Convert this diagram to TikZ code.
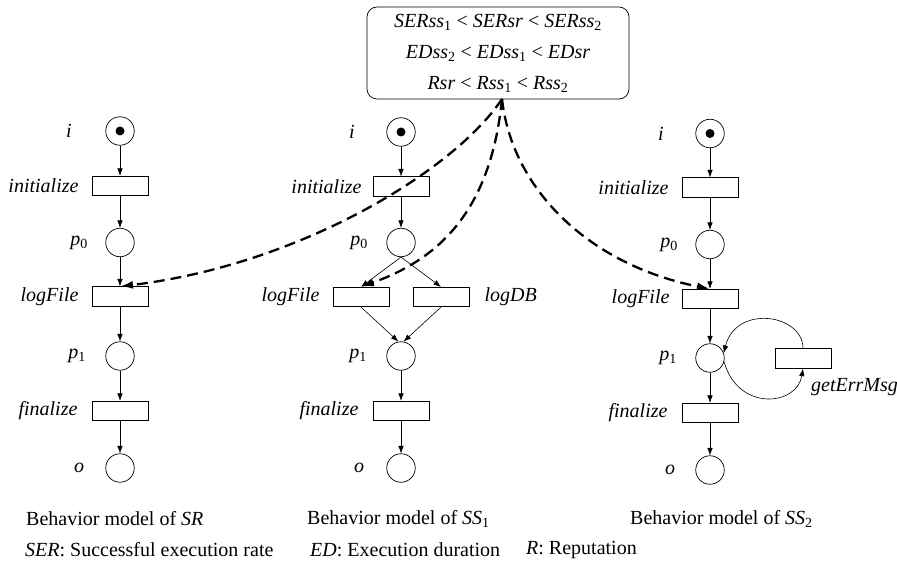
\documentclass[tikz,border=0pt]{standalone}
\usepackage{fontspec}
\setmainfont{Liberation Serif}
\usetikzlibrary{arrows.meta}
\begin{document}
\begin{tikzpicture}[x=1pt,y=-1pt,
  every node/.style={font=\fontsize{20}{23}\selectfont},
  place/.style={circle,draw,line width=0.7pt,minimum size=28.5pt,inner sep=0pt},
  trans/.style={rectangle,draw,line width=0.7pt,minimum width=56pt,minimum height=19.5pt,inner sep=0pt},
  lbl/.style={inner sep=0pt},
  token/.style={circle,fill,minimum size=9pt,inner sep=0pt},
  flow/.style={line width=0.6pt,-{Latex[length=7.5pt,width=5.5pt]}},
  dep/.style={line width=2.3pt,dash pattern=on 11pt off 6pt,-{Latex[length=13pt,width=8pt]}},
  cond/.style={draw,line width=0.7pt,rounded corners=10pt,minimum width=262pt,minimum height=92pt,align=center,font=\fontsize{20}{31}\selectfont}]
\useasboundingbox (0,0) rectangle (897,572);

% condition box
\node[cond] (cnd) at (498,53) {\textit{SERss}\textsubscript{1} < \textit{SERsr} < \textit{SERss}\textsubscript{2}\\
\textit{EDss}\textsubscript{2} < \textit{EDss}\textsubscript{1} < \textit{EDsr}\\
\textit{Rsr} < \textit{Rss}\textsubscript{1} < \textit{Rss}\textsubscript{2}};
\coordinate (src) at (502,99);

% ---------- column 1 : SR ----------
\node[place] (i1) at (120,131) {};
\node[token] (tk1) at (i1) {};
\node[trans] (init1) at (120,186) {};
\node[place] (pa1) at (120,242.5) {};
\node[trans] (lf1) at (120,296.5) {};
\node[place] (pb1) at (120,356) {};
\node[trans] (fin1) at (120,411) {};
\node[place] (o1) at (120,468) {};
\node[lbl] (li1) at (69,131) {\textit{i}};
\node[lbl,anchor=east] (linit1) at ([xshift=-13pt]init1.west) {\textit{initialize}};
\node[lbl] (lpa1) at (79,242.5) {\textit{p}\textsubscript{0}};
\node[lbl,anchor=east] (llf1) at ([xshift=-13pt]lf1.west) {\textit{logFile}};
\node[lbl] (lpb1) at (77,356) {\textit{p}\textsubscript{1}};
\node[lbl,anchor=east] (lfin1) at ([xshift=-14pt]fin1.west) {\textit{finalize}};
\node[lbl] (lo1) at (79,468) {\textit{o}};
\draw[flow] (i1) -- (init1);
\draw[flow] (init1) -- (pa1);
\draw[flow] (pa1) -- (lf1);
\draw[flow] (lf1) -- (pb1);
\draw[flow] (pb1) -- (fin1);
\draw[flow] (fin1) -- (o1);

% ---------- column 2 : SS1 ----------
\node[place] (i2) at (401,132) {};
\node[token] (tk2) at (i2) {};
\node[trans] (init2) at (401,186.5) {};
\node[place] (pa2) at (401,242.5) {};
\node[trans] (lf2) at (361,297) {};
\node[trans] (db2) at (441,297) {};
\node[place] (pb2) at (401,356) {};
\node[trans] (fin2) at (401,411) {};
\node[place] (o2) at (401,468) {};
\node[lbl] (li2) at (352,132) {\textit{i}};
\node[lbl,anchor=east] (linit2) at ([xshift=-11pt]init2.west) {\textit{initialize}};
\node[lbl] (lpa2) at (359,242.5) {\textit{p}\textsubscript{0}};
\node[lbl,anchor=east] (llf2) at ([xshift=-13pt]lf2.west) {\textit{logFile}};
\node[lbl,anchor=west] (ldb2) at ([xshift=15pt]db2.east) {\textit{logDB}};
\node[lbl] (lpb2) at (358,356) {\textit{p}\textsubscript{1}};
\node[lbl,anchor=east] (lfin2) at ([xshift=-14pt]fin2.west) {\textit{finalize}};
\node[lbl] (lo2) at (359,468) {\textit{o}};
\draw[flow] (i2) -- (init2);
\draw[flow] (init2) -- (pa2);
\draw[flow] (pa2.south) -- (lf2.north);
\draw[flow] (pa2.south) -- (db2.north);
\draw[flow] (lf2.south) -- (pb2.100);
\draw[flow] (db2.south) -- (pb2.80);
\draw[flow] (pb2) -- (fin2);
\draw[flow] (fin2) -- (o2);

% ---------- column 3 : SS2 ----------
\node[place] (i3) at (710,133.5) {};
\node[token] (tk3) at (i3) {};
\node[trans] (init3) at (710,187.5) {};
\node[place] (pa3) at (710,244.5) {};
\node[trans] (lf3) at (710,299) {};
\node[place] (pb3) at (710,358) {};
\node[trans] (ge3) at (803,358.5) {};
\node[trans] (fin3) at (710,413) {};
\node[place] (o3) at (710,470) {};
\node[lbl] (li3) at (661,133.5) {\textit{i}};
\node[lbl,anchor=east] (linit3) at ([xshift=-13pt]init3.west) {\textit{initialize}};
\node[lbl] (lpa3) at (669,244.5) {\textit{p}\textsubscript{0}};
\node[lbl,anchor=east] (llf3) at ([xshift=-12pt]lf3.west) {\textit{logFile}};
\node[lbl] (lpb3) at (668,358) {\textit{p}\textsubscript{1}};
\node[lbl,anchor=east] (lfin3) at ([xshift=-14pt]fin3.west) {\textit{finalize}};
\node[lbl] (lo3) at (670,470) {\textit{o}};
\node[lbl,anchor=west] (lge3) at (811,387) {\textit{getErrMsg}};
\draw[flow] (i3) -- (init3);
\draw[flow] (init3) -- (pa3);
\draw[flow] (pa3) -- (lf3);
\draw[flow] (lf3) -- (pb3);
\draw[flow] (pb3) -- (fin3);
\draw[flow] (fin3) -- (o3);
\draw[flow] (ge3.north) .. controls (803,314) and (736,304) .. (pb3.20);
\draw[flow] (pb3.-15) .. controls (738,412) and (797,406) .. (ge3.south);

% ---------- dependency arrows ----------
\draw[dep] (src) .. controls (455,170) and (300,265) .. (lf1.north);
\draw[dep] (src) .. controls (490,220) and (430,262) .. (lf2.north);
\draw[dep] (src) .. controls (512,190) and (590,265) .. (lf3.north);

% ---------- captions ----------
\node[lbl,anchor=west] (cap1) at (26,519) {Behavior model of \textit{SR}};
\node[lbl,anchor=west] (cap2) at (307,519) {Behavior model of \textit{SS}\textsubscript{1}};
\node[lbl,anchor=west] (cap3) at (630,519) {Behavior model of \textit{SS}\textsubscript{2}};
\node[lbl,anchor=west] (leg1) at (25,550) {\textit{SER}: Successful execution rate};
\node[lbl,anchor=west] (leg2) at (310,550) {\textit{ED}: Execution duration};
\node[lbl,anchor=west] (leg3) at (526,550) {\textit{R}: Reputation};
\end{tikzpicture}
\end{document}
